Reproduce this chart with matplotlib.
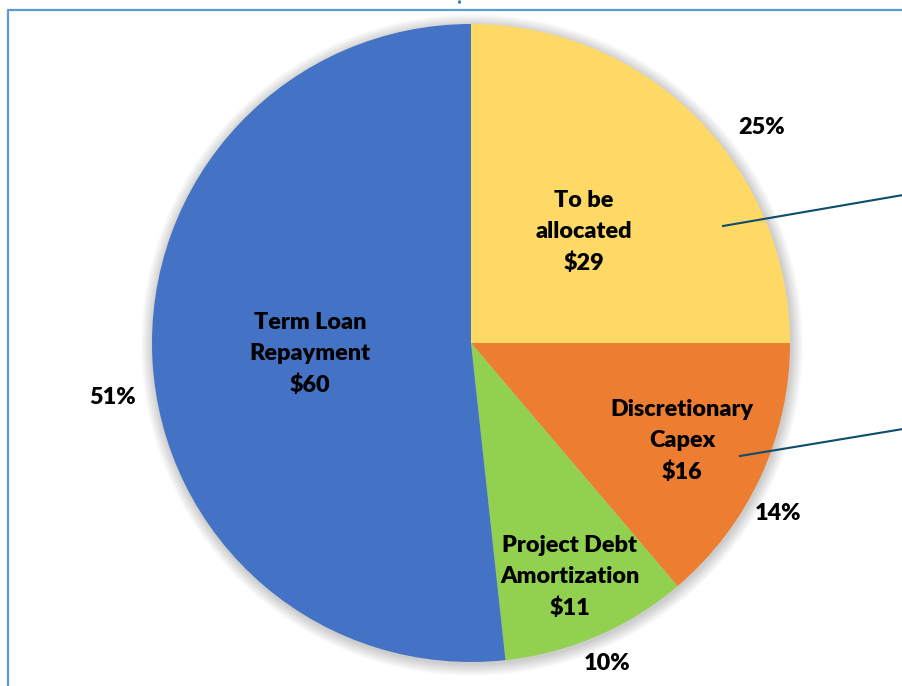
import matplotlib.pyplot as plt
from matplotlib.patches import Circle

# données du graphique
labels = ["To be\nallocated", "Discretionary\nCapex", "Project Debt\nAmortization", "Term Loan\nRepayment"]
values = [29, 16, 11, 60]
pct_labels = ["25%", "14%", "10%", "51%"]
colors = ["#FFD966", "#ED7D31", "#92D050", "#4472C4"]

W, H = 903, 686
fig = plt.figure(figsize=(W / 100, H / 100), dpi=100)
ax = fig.add_axes([0, 0, 1, 1])

cx, cy, r = 471, H - 343, 319

# ombre douce autour du camembert
for i in range(10):
    ax.add_patch(Circle((cx + 1, cy - 2), r + 1 + i * 1.2, color="black",
                        alpha=0.018, lw=0, zorder=0))

wedges, _ = ax.pie(values, colors=colors, startangle=90, counterclock=False,
                   center=(cx, cy), radius=r, frame=True,
                   wedgeprops=dict(linewidth=0))
for w in wedges:
    w.set_zorder(2)

font = dict(family=["Lato", "DejaVu Sans"], fontweight="heavy", fontsize=16.8, color="black")

# étiquettes internes (nom + valeur)
inner_pos = [(584, 232), (682, 441), (570, 577), (310, 354)]
for lab, v, (x, y) in zip(labels, values, inner_pos):
    ax.text(x, H - y, f"{lab}\n${v}", ha="center", va="center",
            linespacing=1.62, zorder=5, **font)

# pourcentages à l'extérieur
pct_pos = [(762, 127), (778, 514), (607, 664), (113, 398)]
for p, (x, y) in zip(pct_labels, pct_pos):
    ax.text(x, H - y, p, ha="center", va="center", zorder=5, **font)

# lignes de rappel vers la droite
ax.plot([723, 903], [H - 226, H - 195], color="#0E4C6E", lw=1.5, zorder=4)
ax.plot([740, 903], [H - 456, H - 429], color="#0E4C6E", lw=1.5, zorder=4)

# cadre du graphique
ax.plot([8.5, 8.5, W + 5], [-5, H - 9.5, H - 9.5], color="#5B9BD5", lw=1.6, zorder=6)
ax.plot([459.5, 459.5], [H, H - 2.5], color="#2E75B6", lw=2, solid_capstyle="butt", zorder=6)

ax.set_xlim(0, W)
ax.set_ylim(0, H)
ax.set_aspect("auto")
ax.axis("off")

fig.savefig("out.png", dpi=100)
